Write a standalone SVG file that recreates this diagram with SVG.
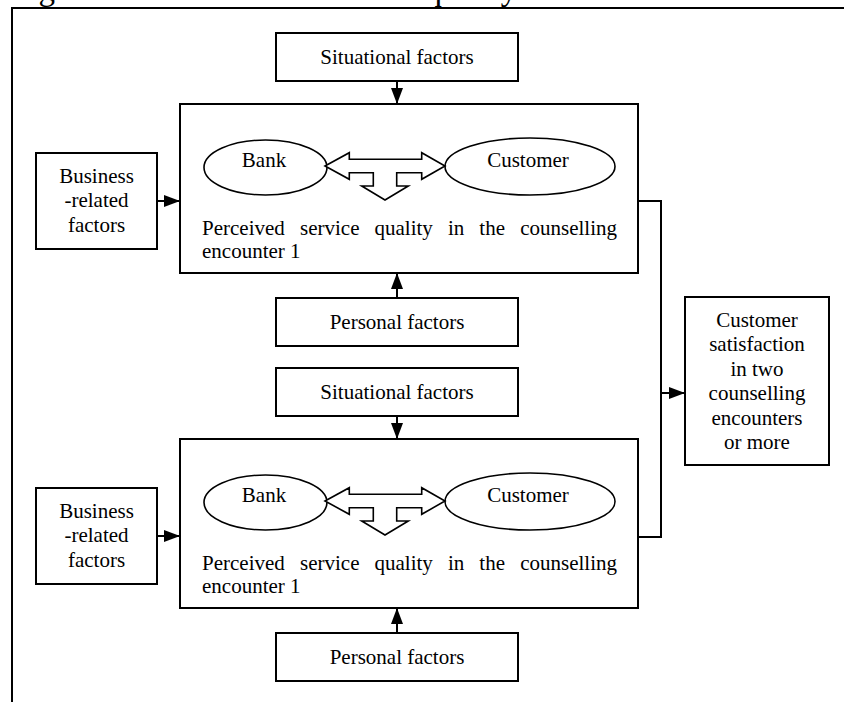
<svg xmlns="http://www.w3.org/2000/svg" width="844" height="702" viewBox="0 0 844 702">
  <style>
    text { font-family: "Liberation Serif", "Times New Roman", serif; font-size: 21px; fill: #000; }
    .c { text-anchor: middle; }
    .box { fill: #fff; stroke: #000; stroke-width: 2; }
    .ell { fill: #fff; stroke: #000; stroke-width: 1.6; }
    .blk { fill: #fff; stroke: #000; stroke-width: 1.6; stroke-linejoin: miter; }
    .ln { fill: none; stroke: #000; stroke-width: 2; }
    .cap { font-size: 33px; }
  </style>
  <defs>
    <marker id="ah" viewBox="0 0 16 12" refX="16" refY="6" markerWidth="16" markerHeight="12" markerUnits="userSpaceOnUse" orient="auto">
      <path d="M0,0 L16,6 L0,12 Z" fill="#000"/>
    </marker>
  </defs>
  <rect width="844" height="702" fill="#fff"/>

  <text class="cap" x="11" y="0">Figure 1. The model of service quality and customer satisfaction</text>

  <path class="ln" d="M12,702 V8 H844"/>

  <g id="connectors">
    <line class="ln" x1="397" y1="81" x2="397" y2="104" marker-end="url(#ah)"/>
    <line class="ln" x1="397" y1="298" x2="397" y2="273" marker-end="url(#ah)"/>
    <line class="ln" x1="157" y1="201" x2="180" y2="201" marker-end="url(#ah)"/>
    <line class="ln" x1="397" y1="416" x2="397" y2="439" marker-end="url(#ah)"/>
    <line class="ln" x1="397" y1="633" x2="397" y2="608" marker-end="url(#ah)"/>
    <line class="ln" x1="157" y1="536" x2="180" y2="536" marker-end="url(#ah)"/>
    <path class="ln" d="M638,201 H661 V537 H638"/>
    <line class="ln" x1="661" y1="393" x2="685" y2="393" marker-end="url(#ah)"/>
  </g>

  <g id="situational1">
    <rect class="box" x="276" y="33" width="242" height="48"/>
    <text class="c" x="397" y="64">Situational factors</text>
  </g>

  <g id="encounter1">
    <rect class="box" x="180" y="104" width="458" height="169"/>
    <ellipse class="ell" cx="265.5" cy="167.5" rx="61.5" ry="27.5"/>
    <text class="c" x="264" y="167">Bank</text>
    <ellipse class="ell" cx="530" cy="166.5" rx="85" ry="28.5"/>
    <text class="c" x="528" y="167">Customer</text>
    <path class="blk" d="M325,166 L349.3,152.7 L349.3,159.3 L421.7,159.3 L421.7,152.7 L445,166 L421.7,179.3 L421.7,172.7 L396.7,172.7 L396.7,186 L408.3,186 L385,200 L361.7,186 L373.3,186 L373.3,172.7 L349.3,172.7 L349.3,179.3 Z"/>
    <text x="202" y="235">Perceived</text>
    <text x="300" y="235">service</text>
    <text x="374.5" y="235">quality</text>
    <text x="448" y="235">in</text>
    <text x="479.3" y="235">the</text>
    <text x="617" y="235" text-anchor="end">counselling</text>
    <text x="202" y="258">encounter 1</text>
  </g>

  <g id="business1">
    <rect class="box" x="36" y="153" width="121" height="96"/>
    <text class="c" x="96.5" y="183">Business</text>
    <text class="c" x="96.5" y="207">-related</text>
    <text class="c" x="96.5" y="232">factors</text>
  </g>

  <g id="personal1">
    <rect class="box" x="276" y="298" width="242" height="48"/>
    <text class="c" x="397" y="329">Personal factors</text>
  </g>

  <g id="situational2">
    <rect class="box" x="276" y="368" width="242" height="48"/>
    <text class="c" x="397" y="399">Situational factors</text>
  </g>

  <g id="encounter2">
    <rect class="box" x="180" y="439" width="458" height="169"/>
    <ellipse class="ell" cx="265.5" cy="502.5" rx="61.5" ry="27.5"/>
    <text class="c" x="264" y="502">Bank</text>
    <ellipse class="ell" cx="530" cy="501.5" rx="85" ry="28.5"/>
    <text class="c" x="528" y="502">Customer</text>
    <path class="blk" d="M325,501 L349.3,487.7 L349.3,494.3 L421.7,494.3 L421.7,487.7 L445,501 L421.7,514.3 L421.7,507.7 L396.7,507.7 L396.7,521 L408.3,521 L385,535 L361.7,521 L373.3,521 L373.3,507.7 L349.3,507.7 L349.3,514.3 Z"/>
    <text x="202" y="570">Perceived</text>
    <text x="300" y="570">service</text>
    <text x="374.5" y="570">quality</text>
    <text x="448" y="570">in</text>
    <text x="479.3" y="570">the</text>
    <text x="617" y="570" text-anchor="end">counselling</text>
    <text x="202" y="593">encounter 1</text>
  </g>

  <g id="business2">
    <rect class="box" x="36" y="488" width="121" height="96"/>
    <text class="c" x="96.5" y="518">Business</text>
    <text class="c" x="96.5" y="542">-related</text>
    <text class="c" x="96.5" y="567">factors</text>
  </g>

  <g id="personal2">
    <rect class="box" x="276" y="633" width="242" height="48"/>
    <text class="c" x="397" y="664">Personal factors</text>
  </g>

  <g id="satisfaction">
    <rect class="box" x="685" y="297" width="144" height="168"/>
    <text class="c" x="757" y="327">Customer</text>
    <text class="c" x="757" y="351">satisfaction</text>
    <text class="c" x="757" y="376">in two</text>
    <text class="c" x="757" y="400">counselling</text>
    <text class="c" x="757" y="425">encounters</text>
    <text class="c" x="757" y="449">or more</text>
  </g>
</svg>
